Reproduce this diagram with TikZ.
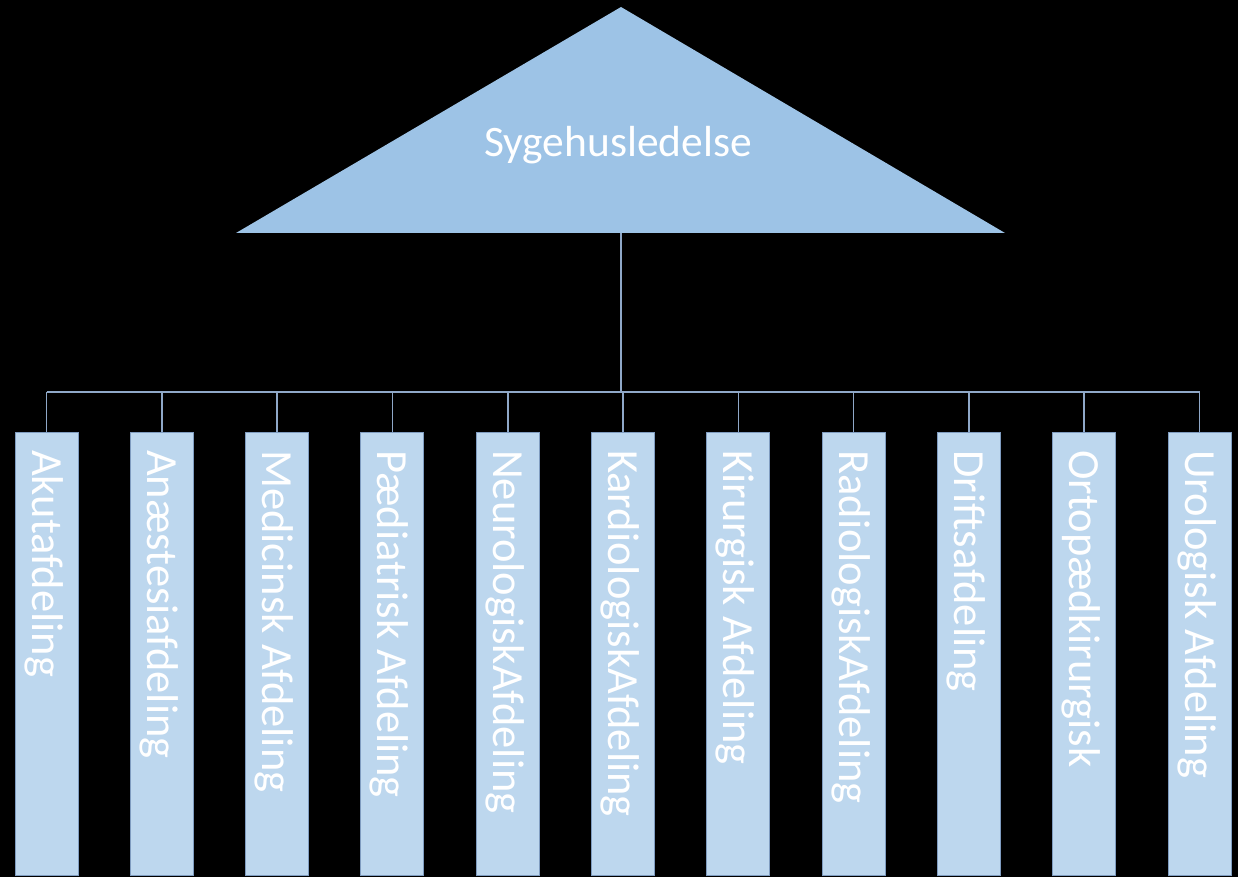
\documentclass[tikz,border=0pt]{standalone}
\usepackage{fontspec}
\setmainfont{Carlito}
\definecolor{trifill}{HTML}{9DC3E6}
\definecolor{boxfill}{HTML}{BDD7EE}
\definecolor{boxline}{HTML}{7F9CC0}
\definecolor{connline}{HTML}{8FA8C8}
\tikzset{
  dept/.style={draw=boxline, line width=1pt, fill=boxfill, minimum width=63pt, minimum height=443pt, inner sep=0pt, anchor=north},
  depttext/.style={text=white, rotate=-90, anchor=base west, inner sep=0pt, font=\fontsize{44.5}{50}\selectfont},
  conn/.style={draw=connline, line width=1.6pt},
  toptext/.style={text=white, anchor=base, inner sep=0pt, font=\fontsize{43.5}{50}\selectfont}
}
\begin{document}
\begin{tikzpicture}[x=1pt,y=-1pt]
\useasboundingbox (0,0) rectangle (1238,877);
\fill[black] (0,0) rectangle (1238,877);
% triangle
\fill[trifill] (621,7) -- (1005,233) -- (236,233) -- cycle;
\coordinate (tribase) at (621,233);
\node[toptext] (head) at (618,157) {Sygehusledelse};
\coordinate (bus) at (621,392);
% departments
\foreach \i/\name in {0/Akutafdeling,1/Anæstesiafdeling,2/Medicinsk Afdeling,3/Pædiatrisk Afdeling,4/NeurologiskAfdeling,5/KardiologiskAfdeling,6/Kirurgisk Afdeling,7/RadiologiskAfdeling,8/Driftsafdeling,9/Ortopædkirurgisk,10/Urologisk Afdeling}{
  \pgfmathsetmacro{\cx}{46.5+115.3*\i}
  \node[dept] (b\i) at (\cx,432) {};
  \node[depttext] (t\i) at (\cx-14.5,450) {\name};
}
\draw[conn] (tribase) -- (bus);
\draw[conn] (b0.north |- bus) -- (b10.north |- bus);
\foreach \i in {0,...,10}{
  \draw[conn] (b\i.north |- bus) -- (b\i.north);
}
\end{tikzpicture}
\end{document}
